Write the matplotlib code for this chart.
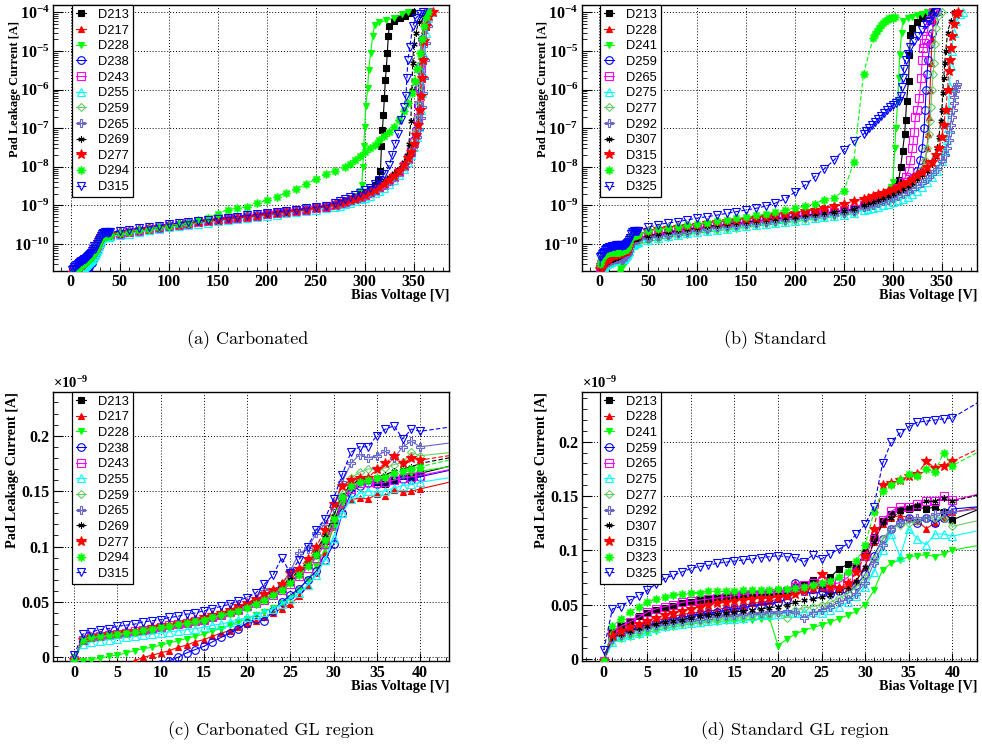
import matplotlib
matplotlib.use('Agg')
import matplotlib.pyplot as plt
from matplotlib.ticker import FixedLocator, FixedFormatter, MultipleLocator, LogLocator, NullFormatter

plt.rcParams['mathtext.fontset'] = 'custom'
plt.rcParams['mathtext.rm'] = 'Liberation Serif:bold'
plt.rcParams['mathtext.bf'] = 'Liberation Serif:bold'
plt.rcParams['mathtext.it'] = 'Liberation Serif:bold'

# ---- voltage grids ----
gl_v = list(range(0, 41))            # 0..40 V, GL region (values in 1e-9 A)
mid_v = list(range(50, 261, 10))     # 50..260 V (values in 1e-10 A)
# tails: (V, I[A]) pairs from 270 V up to compliance

# ================= Carbonated =================
c_names = ['D213', 'D217', 'D228', 'D238', 'D243', 'D255',
           'D259', 'D265', 'D269', 'D277', 'D294', 'D315']

c213_gl = [-0.002, 0.016, 0.018, 0.019, 0.020, 0.021, 0.022, 0.023, 0.025, 0.026,
           0.027, 0.028, 0.030, 0.031, 0.033, 0.034, 0.036, 0.038, 0.040, 0.043,
           0.046, 0.050, 0.053, 0.057, 0.062, 0.068, 0.075, 0.083, 0.092, 0.105,
           0.122, 0.142, 0.155, 0.160, 0.161, 0.158, 0.156, 0.160, 0.164, 0.163,
           0.166]
c217_gl = [-0.020, -0.018, -0.016, -0.013, -0.011, -0.008, -0.006, -0.003, 0.000, 0.002,
           0.004, 0.006, 0.009, 0.011, 0.014, 0.016, 0.019, 0.022, 0.024, 0.027,
           0.030, 0.033, 0.036, 0.040, 0.044, 0.048, 0.055, 0.064, 0.076, 0.095,
           0.118, 0.135, 0.142, 0.144, 0.143, 0.147, 0.146, 0.151, 0.149, 0.150,
           0.152]
c228_gl = [0.000, -0.003, -0.002, -0.001, 0.001, 0.002, 0.004, 0.006, 0.008, 0.009,
           0.011, 0.013, 0.015, 0.017, 0.019, 0.021, 0.024, 0.026, 0.029, 0.032,
           0.035, 0.038, 0.041, 0.045, 0.049, 0.054, 0.061, 0.070, 0.082, 0.098,
           0.118, 0.138, 0.150, 0.156, 0.158, 0.160, 0.161, 0.163, 0.164, 0.166,
           0.168]
c238_gl = [-0.030, -0.028, -0.026, -0.024, -0.022, -0.020, -0.018, -0.015, -0.012, -0.009,
           -0.006, -0.003, 0.000, 0.004, 0.007, 0.010, 0.014, 0.018, 0.022, 0.026,
           0.031, 0.035, 0.033, 0.042, 0.050, 0.056, 0.062, 0.070, 0.078, 0.088,
           0.102, 0.130, 0.148, 0.155, 0.157, 0.156, 0.158, 0.160, 0.161, 0.160,
           0.163]
c243_gl = [-0.002, 0.016, 0.018, 0.019, 0.020, 0.021, 0.022, 0.024, 0.025, 0.026,
           0.027, 0.029, 0.030, 0.031, 0.033, 0.034, 0.036, 0.038, 0.041, 0.043,
           0.046, 0.049, 0.052, 0.056, 0.061, 0.066, 0.073, 0.081, 0.090, 0.102,
           0.120, 0.140, 0.152, 0.157, 0.158, 0.157, 0.158, 0.160, 0.162, 0.163,
           0.164]
c255_gl = [-0.002, 0.012, 0.014, 0.015, 0.016, 0.017, 0.018, 0.019, 0.020, 0.021,
           0.022, 0.023, 0.024, 0.025, 0.026, 0.027, 0.029, 0.030, 0.032, 0.034,
           0.036, 0.038, 0.041, 0.044, 0.048, 0.053, 0.058, 0.065, 0.074, 0.088,
           0.108, 0.130, 0.143, 0.148, 0.150, 0.149, 0.150, 0.153, 0.155, 0.156,
           0.158]
c259_gl = [-0.002, 0.016, 0.018, 0.019, 0.020, 0.021, 0.022, 0.023, 0.025, 0.026,
           0.027, 0.028, 0.030, 0.031, 0.032, 0.034, 0.036, 0.038, 0.040, 0.043,
           0.046, 0.049, 0.053, 0.057, 0.063, 0.070, 0.078, 0.087, 0.097, 0.110,
           0.128, 0.150, 0.162, 0.167, 0.170, 0.170, 0.171, 0.174, 0.176, 0.185,
           0.182]
c265_gl = [-0.002, 0.016, 0.018, 0.020, 0.021, 0.022, 0.023, 0.024, 0.026, 0.027,
           0.028, 0.030, 0.031, 0.033, 0.034, 0.036, 0.038, 0.040, 0.042, 0.045,
           0.049, 0.053, 0.062, 0.060, 0.066, 0.078, 0.094, 0.098, 0.112, 0.120,
           0.135, 0.158, 0.175, 0.183, 0.180, 0.182, 0.186, 0.180, 0.190, 0.195,
           0.190]
c269_gl = [-0.002, 0.017, 0.019, 0.020, 0.021, 0.022, 0.023, 0.024, 0.025, 0.027,
           0.028, 0.029, 0.031, 0.032, 0.034, 0.035, 0.037, 0.039, 0.042, 0.045,
           0.048, 0.051, 0.055, 0.060, 0.065, 0.071, 0.078, 0.086, 0.096, 0.110,
           0.128, 0.146, 0.156, 0.160, 0.162, 0.163, 0.165, 0.168, 0.170, 0.172,
           0.175]
c277_gl = [-0.002, 0.016, 0.018, 0.019, 0.021, 0.022, 0.023, 0.024, 0.025, 0.027,
           0.028, 0.029, 0.031, 0.032, 0.034, 0.036, 0.038, 0.040, 0.043, 0.046,
           0.049, 0.053, 0.057, 0.061, 0.066, 0.076, 0.080, 0.089, 0.100, 0.115,
           0.138, 0.155, 0.160, 0.162, 0.162, 0.170, 0.175, 0.182, 0.175, 0.180,
           0.178]
c294_gl = [-0.002, 0.016, 0.018, 0.019, 0.020, 0.021, 0.022, 0.023, 0.025, 0.026,
           0.027, 0.028, 0.030, 0.031, 0.033, 0.034, 0.036, 0.038, 0.040, 0.042,
           0.045, 0.048, 0.052, 0.056, 0.061, 0.067, 0.074, 0.082, 0.092, 0.106,
           0.125, 0.145, 0.155, 0.158, 0.160, 0.162, 0.163, 0.166, 0.168, 0.170,
           0.172]
c315_gl = [0.002, 0.021, 0.023, 0.025, 0.026, 0.028, 0.029, 0.030, 0.032, 0.033,
           0.034, 0.036, 0.037, 0.039, 0.040, 0.042, 0.044, 0.046, 0.048, 0.051,
           0.054, 0.058, 0.066, 0.074, 0.090, 0.076, 0.088, 0.100, 0.115, 0.125,
           0.143, 0.165, 0.185, 0.190, 0.190, 0.200, 0.206, 0.209, 0.197, 0.206,
           0.204]

c213_mid = [1.85, 2.05, 2.25, 2.45, 2.7, 2.95, 3.2, 3.45, 3.7, 3.95, 4.2, 4.5, 4.8, 5.1, 5.5, 5.9, 6.3, 6.8, 7.3, 7.9, 8.6, 9.4]
c217_mid = [1.7, 1.9, 2.1, 2.3, 2.5, 2.75, 3.0, 3.25, 3.5, 3.75, 4.0, 4.3, 4.6, 4.9, 5.2, 5.6, 6.0, 6.5, 7.0, 7.5, 8.2, 9.0]
c228_mid = [1.8, 2.0, 2.2, 2.4, 2.65, 2.9, 3.15, 3.4, 3.65, 3.9, 4.15, 4.45, 4.75, 5.05, 5.4, 5.8, 6.2, 6.7, 7.2, 7.8, 8.5, 9.3]
c238_mid = [1.8, 2.0, 2.2, 2.45, 2.7, 2.95, 3.2, 3.45, 3.7, 3.95, 4.25, 4.55, 4.85, 5.2, 5.55, 5.95, 6.4, 6.9, 7.4, 8.0, 8.7, 9.6]
c243_mid = [1.8, 2.0, 2.2, 2.4, 2.65, 2.9, 3.15, 3.4, 3.65, 3.9, 4.2, 4.5, 4.8, 5.1, 5.45, 5.85, 6.25, 6.7, 7.2, 7.8, 8.5, 9.3]
c255_mid = [1.7, 1.85, 2.05, 2.25, 2.45, 2.7, 2.9, 3.15, 3.4, 3.6, 3.85, 4.1, 4.4, 4.7, 5.0, 5.35, 5.75, 6.2, 6.7, 7.2, 7.8, 8.5]
c259_mid = [1.9, 2.1, 2.3, 2.5, 2.75, 3.0, 3.25, 3.5, 3.75, 4.0, 4.3, 4.6, 4.9, 5.2, 5.6, 6.0, 6.4, 6.9, 7.4, 8.0, 8.7, 9.5]
c265_mid = [2.0, 2.2, 2.4, 2.6, 2.85, 3.1, 3.35, 3.6, 3.85, 4.1, 4.4, 4.7, 5.0, 5.35, 5.7, 6.1, 6.5, 7.0, 7.5, 8.1, 8.8, 9.6]
c269_mid = [1.9, 2.1, 2.3, 2.5, 2.75, 3.0, 3.25, 3.5, 3.75, 4.0, 4.25, 4.55, 4.85, 5.15, 5.55, 5.95, 6.35, 6.85, 7.35, 7.95, 8.6, 9.4]
c277_mid = [1.9, 2.1, 2.3, 2.5, 2.7, 2.95, 3.2, 3.45, 3.7, 3.95, 4.2, 4.5, 4.8, 5.1, 5.45, 5.85, 6.25, 6.7, 7.2, 7.8, 8.5, 9.2]
c294_mid = [1.9, 2.1, 2.3, 2.5, 2.75, 3.0, 3.3, 3.6, 4.1, 4.8, 6.0, 7.8, 8.5, 9.3, 11.3, 13.8, 17.0, 21.0, 27.0, 35.0, 48.0, 66.0]
c315_mid = [2.15, 2.35, 2.55, 2.75, 3.0, 3.25, 3.5, 3.75, 4.0, 4.25, 4.55, 4.85, 5.15, 5.5, 5.85, 6.25, 6.7, 7.2, 7.75, 8.35, 9.0, 9.8]

c213_tail = [(270, 1.05e-9), (275, 1.15e-9), (280, 1.3e-9), (285, 1.45e-9), (290, 1.65e-9), (295, 1.9e-9),
             (300, 2.2e-9), (305, 2.7e-9), (310, 3.4e-9), (314, 4.6e-9), (316, 7.6e-9), (317, 3.4e-8),
             (318, 9e-8), (319, 2.2e-7), (320, 6e-7), (321, 1.8e-6), (322, 3.6e-6), (323, 8.9e-6),
             (324, 2.4e-5), (325, 4.4e-5), (330, 5.8e-5), (336, 7e-5), (341, 8.2e-5), (345, 9.5e-5), (348, 1.05e-4)]
c217_tail = [(270, 9.8e-10), (275, 1.07e-9), (280, 1.17e-9), (285, 1.28e-9), (290, 1.42e-9), (295, 1.58e-9),
             (300, 1.78e-9), (305, 2.02e-9), (310, 2.33e-9), (315, 2.75e-9), (320, 3.3e-9), (325, 4.1e-9),
             (330, 5.2e-9), (335, 7e-9), (340, 1.0e-8), (344, 1.5e-8), (347, 2.3e-8), (350, 4.2e-8),
             (352, 7.5e-8), (354, 1.6e-7), (355, 3.5e-7), (356, 1e-6), (357, 3e-6), (358, 1e-5),
             (360, 3.5e-5), (363, 7e-5), (367, 1.05e-4)]
c228_tail = [(270, 1.05e-9), (275, 1.15e-9), (280, 1.3e-9), (285, 1.5e-9), (290, 1.8e-9), (295, 2.4e-9),
             (297, 3.4e-9), (298, 1e-8), (299, 3.4e-8), (300, 1.1e-7), (301, 3.7e-7), (303, 1.1e-6),
             (304, 3.3e-6), (306, 8.9e-6), (308, 2.4e-5), (310, 4.7e-5), (315, 5.5e-5), (322, 6.2e-5),
             (330, 7.3e-5), (338, 8.8e-5), (344, 1.03e-4)]
c238_tail = [(270, 1.02e-9), (275, 1.1e-9), (280, 1.2e-9), (285, 1.32e-9), (290, 1.46e-9), (295, 1.63e-9),
             (300, 1.84e-9), (305, 2.1e-9), (310, 2.42e-9), (315, 2.85e-9), (320, 3.45e-9), (325, 4.3e-9),
             (330, 5.5e-9), (335, 7.4e-9), (340, 1.07e-8), (344, 1.6e-8), (347, 2.5e-8), (350, 4.8e-8),
             (352, 9e-8), (353, 1.7e-7), (354, 4e-7), (355, 1.2e-6), (356, 4e-6), (358, 2e-5),
             (361, 6e-5), (364, 1.05e-4)]
c243_tail = [(270, 1.0e-9), (275, 1.08e-9), (280, 1.18e-9), (285, 1.3e-9), (290, 1.44e-9), (295, 1.6e-9),
             (300, 1.8e-9), (305, 2.05e-9), (310, 2.36e-9), (315, 2.78e-9), (320, 3.35e-9), (325, 4.2e-9),
             (330, 5.35e-9), (335, 7.2e-9), (340, 1.04e-8), (344, 1.55e-8), (347, 2.4e-8), (350, 4.5e-8),
             (352, 8e-8), (354, 1.8e-7), (355, 4e-7), (356, 1.1e-6), (357, 3.5e-6), (359, 1.8e-5),
             (362, 6e-5), (365, 1.05e-4)]
c255_tail = [(270, 9e-10), (275, 9.8e-10), (280, 1.07e-9), (285, 1.17e-9), (290, 1.29e-9), (295, 1.43e-9),
             (300, 1.6e-9), (305, 1.8e-9), (310, 2.07e-9), (315, 2.42e-9), (320, 2.9e-9), (325, 3.6e-9),
             (330, 4.6e-9), (335, 6.2e-9), (340, 9e-9), (344, 1.35e-8), (347, 2e-8), (350, 3.3e-8),
             (353, 6e-8), (355, 1.1e-7), (357, 3e-7), (358, 8e-7), (359, 2.5e-6), (360, 8e-6),
             (362, 3e-5), (365, 7e-5), (369, 1.05e-4)]
c259_tail = [(270, 1.05e-9), (275, 1.13e-9), (280, 1.23e-9), (285, 1.35e-9), (290, 1.49e-9), (295, 1.66e-9),
             (300, 1.87e-9), (305, 2.13e-9), (310, 2.46e-9), (315, 2.9e-9), (320, 3.5e-9), (325, 4.35e-9),
             (330, 5.6e-9), (335, 7.5e-9), (340, 1.08e-8), (344, 1.6e-8), (347, 2.5e-8), (350, 4.6e-8),
             (352, 8.5e-8), (354, 1.9e-7), (355, 4.5e-7), (356, 1.3e-6), (357, 4.5e-6), (359, 2e-5),
             (362, 6e-5), (366, 1.05e-4)]
c265_tail = [(270, 1.08e-9), (275, 1.16e-9), (280, 1.26e-9), (285, 1.38e-9), (290, 1.52e-9), (295, 1.69e-9),
             (300, 1.9e-9), (305, 2.16e-9), (310, 2.5e-9), (315, 2.95e-9), (320, 3.55e-9), (325, 4.4e-9),
             (330, 5.6e-9), (335, 7.4e-9), (340, 1.05e-8), (344, 1.5e-8), (347, 2.2e-8), (350, 3.5e-8),
             (353, 6e-8), (355, 9.5e-8), (357, 1.8e-7), (358, 3.5e-7), (359, 8e-7), (360, 2e-6),
             (361, 6e-6), (362, 1.6e-5), (364, 4.5e-5), (367, 1.05e-4)]
c269_tail = [(270, 1.1e-9), (275, 1.2e-9), (280, 1.35e-9), (285, 1.5e-9), (290, 1.7e-9), (295, 1.95e-9),
             (300, 2.2e-9), (305, 2.6e-9), (310, 3.1e-9), (315, 3.7e-9), (320, 4.5e-9), (325, 5.6e-9),
             (330, 7e-9), (335, 9e-9), (340, 1.3e-8), (343, 2e-8), (345, 4e-8), (347, 1.5e-7),
             (348, 1e-6), (349, 5e-6), (350, 1.5e-5), (352, 3e-5), (355, 5.5e-5), (358, 8e-5), (362, 1.05e-4)]
c277_tail = [(270, 1.05e-9), (275, 1.13e-9), (280, 1.23e-9), (285, 1.35e-9), (290, 1.5e-9), (295, 1.68e-9),
             (300, 1.9e-9), (305, 2.17e-9), (310, 2.52e-9), (315, 2.98e-9), (320, 3.6e-9), (325, 4.5e-9),
             (330, 5.8e-9), (335, 7.8e-9), (340, 1.12e-8), (344, 1.65e-8), (347, 2.4e-8), (350, 4e-8),
             (352, 6.5e-8), (354, 1.2e-7), (356, 3e-7), (357, 7e-7), (358, 2e-6), (359, 6e-6),
             (360, 1.8e-5), (362, 4.5e-5), (366, 8e-5), (370, 1.05e-4)]
c294_tail = [(270, 8e-9), (280, 1.0e-8), (285, 1.2e-8), (290, 1.5e-8), (295, 1.9e-8), (300, 2.4e-8),
             (305, 3e-8), (310, 3.7e-8), (315, 4.8e-8), (320, 6.2e-8), (325, 8.2e-8), (330, 1.1e-7),
             (335, 1.6e-7), (340, 2.8e-7), (344, 4.5e-7), (348, 8.3e-7), (351, 1.7e-6), (353, 3.5e-6),
             (356, 9e-6), (358, 2e-5), (360, 4.5e-5), (362, 7.5e-5), (364, 1.05e-4)]
c315_tail = [(270, 1.15e-9), (275, 1.3e-9), (280, 1.45e-9), (285, 1.65e-9), (290, 1.9e-9), (295, 2.15e-9),
             (300, 2.5e-9), (305, 2.9e-9), (310, 3.5e-9), (315, 4.5e-9), (320, 6.5e-9), (325, 1.1e-8),
             (328, 2e-8), (331, 4e-8), (334, 7e-8), (337, 1.6e-7), (340, 3.5e-7), (342, 7e-7),
             (343, 2e-6), (344, 5.9e-6), (346, 1.3e-5), (349, 4.4e-5), (352, 7e-5), (356, 9e-5), (359, 1.05e-4)]

# ================= Standard =================
s_names = ['D213', 'D228', 'D241', 'D259', 'D265', 'D275',
           'D277', 'D292', 'D307', 'D315', 'D323', 'D325']

s213_gl = [-0.002, 0.025, 0.031, 0.035, 0.039, 0.042, 0.045, 0.047, 0.049, 0.051,
           0.052, 0.054, 0.055, 0.056, 0.057, 0.058, 0.059, 0.060, 0.060, 0.061,
           0.062, 0.063, 0.065, 0.068, 0.073, 0.066, 0.075, 0.083, 0.087, 0.085,
           0.098, 0.112, 0.127, 0.133, 0.137, 0.138, 0.140, 0.138, 0.140, 0.135,
           0.128]
s228_gl = [-0.002, 0.022, 0.026, 0.029, 0.031, 0.033, 0.035, 0.037, 0.039, 0.041,
           0.042, 0.043, 0.044, 0.045, 0.047, 0.048, 0.049, 0.051, 0.052, 0.053,
           0.055, 0.058, 0.070, 0.066, 0.064, 0.065, 0.063, 0.066, 0.065, 0.072,
           0.085, 0.108, 0.124, 0.130, 0.132, 0.130, 0.127, 0.120, 0.125, 0.130,
           0.135]
s241_gl = [-0.002, 0.015, 0.018, 0.020, 0.022, 0.024, 0.026, 0.028, 0.029, 0.031,
           0.032, 0.033, 0.034, 0.034, 0.035, 0.035, 0.036, 0.036, 0.037, 0.038,
           0.012, 0.018, 0.023, 0.026, 0.029, 0.031, 0.034, 0.037, 0.040, 0.044,
           0.050, 0.063, 0.082, 0.088, 0.091, 0.094, 0.095, 0.096, 0.094, 0.097,
           0.100]
s259_gl = [-0.002, 0.020, 0.024, 0.027, 0.029, 0.031, 0.033, 0.035, 0.037, 0.038,
           0.040, 0.041, 0.042, 0.043, 0.045, 0.046, 0.047, 0.049, 0.050, 0.051,
           0.052, 0.055, 0.070, 0.062, 0.060, 0.062, 0.060, 0.062, 0.060, 0.068,
           0.078, 0.095, 0.110, 0.120, 0.125, 0.130, 0.125, 0.130, 0.125, 0.130,
           0.138]
s265_gl = [-0.002, 0.025, 0.030, 0.034, 0.038, 0.043, 0.046, 0.048, 0.050, 0.052,
           0.053, 0.054, 0.055, 0.056, 0.057, 0.058, 0.059, 0.060, 0.060, 0.061,
           0.061, 0.062, 0.066, 0.068, 0.070, 0.072, 0.068, 0.070, 0.075, 0.085,
           0.095, 0.110, 0.128, 0.136, 0.140, 0.140, 0.143, 0.145, 0.145, 0.150,
           0.146]
s275_gl = [-0.002, 0.015, 0.020, 0.022, 0.024, 0.026, 0.028, 0.030, 0.031, 0.032,
           0.033, 0.034, 0.035, 0.036, 0.037, 0.037, 0.038, 0.039, 0.040, 0.040,
           0.041, 0.042, 0.042, 0.043, 0.043, 0.042, 0.045, 0.048, 0.052, 0.058,
           0.066, 0.080, 0.100, 0.115, 0.094, 0.120, 0.110, 0.105, 0.115, 0.115,
           0.113]
s277_gl = [-0.002, 0.018, 0.022, 0.024, 0.026, 0.028, 0.029, 0.031, 0.032, 0.033,
           0.034, 0.035, 0.036, 0.037, 0.038, 0.038, 0.039, 0.040, 0.041, 0.041,
           0.042, 0.038, 0.045, 0.047, 0.048, 0.050, 0.052, 0.056, 0.060, 0.066,
           0.075, 0.092, 0.110, 0.120, 0.123, 0.125, 0.127, 0.130, 0.130, 0.130,
           0.122]
s292_gl = [-0.002, 0.018, 0.022, 0.025, 0.027, 0.029, 0.031, 0.032, 0.034, 0.035,
           0.036, 0.037, 0.038, 0.039, 0.040, 0.040, 0.041, 0.042, 0.042, 0.043,
           0.043, 0.044, 0.043, 0.038, 0.042, 0.045, 0.048, 0.052, 0.055, 0.060,
           0.070, 0.088, 0.105, 0.120, 0.126, 0.130, 0.130, 0.130, 0.133, 0.135,
           0.135]
s307_gl = [-0.002, 0.020, 0.023, 0.026, 0.028, 0.030, 0.032, 0.034, 0.035, 0.036,
           0.038, 0.039, 0.040, 0.041, 0.042, 0.043, 0.044, 0.045, 0.046, 0.047,
           0.048, 0.050, 0.052, 0.054, 0.055, 0.057, 0.059, 0.062, 0.066, 0.072,
           0.085, 0.108, 0.125, 0.130, 0.135, 0.140, 0.142, 0.145, 0.145, 0.148,
           0.145]
s315_gl = [-0.002, 0.022, 0.026, 0.029, 0.032, 0.035, 0.038, 0.040, 0.042, 0.044,
           0.046, 0.048, 0.050, 0.051, 0.052, 0.053, 0.054, 0.055, 0.056, 0.056,
           0.057, 0.058, 0.060, 0.062, 0.065, 0.078, 0.066, 0.065, 0.070, 0.080,
           0.095, 0.120, 0.160, 0.162, 0.165, 0.168, 0.170, 0.182, 0.176, 0.178,
           0.182]
s323_gl = [-0.002, 0.030, 0.037, 0.043, 0.048, 0.052, 0.055, 0.057, 0.059, 0.060,
           0.061, 0.061, 0.062, 0.062, 0.062, 0.062, 0.063, 0.063, 0.063, 0.063,
           0.064, 0.064, 0.065, 0.066, 0.068, 0.070, 0.072, 0.075, 0.080, 0.090,
           0.105, 0.135, 0.155, 0.160, 0.165, 0.170, 0.168, 0.175, 0.172, 0.190,
           0.178]
s325_gl = [0.008, 0.046, 0.048, 0.054, 0.058, 0.063, 0.069, 0.074, 0.077, 0.080,
           0.083, 0.085, 0.086, 0.088, 0.089, 0.090, 0.091, 0.092, 0.093, 0.094,
           0.095, 0.094, 0.093, 0.089, 0.096, 0.092, 0.097, 0.101, 0.106, 0.115,
           0.124, 0.140, 0.180, 0.200, 0.208, 0.214, 0.218, 0.219, 0.220, 0.221,
           0.222]

s213_mid = [1.6, 1.8, 2.0, 2.2, 2.4, 2.6, 2.8, 3.0, 3.2, 3.45, 3.7, 3.95, 4.2, 4.5, 4.8, 5.1, 5.5, 5.9, 6.3, 6.8, 7.4, 8.0]
s228_mid = [1.5, 1.7, 1.9, 2.1, 2.3, 2.5, 2.7, 2.9, 3.1, 3.35, 3.6, 3.85, 4.1, 4.4, 4.7, 5.0, 5.4, 5.8, 6.2, 6.7, 7.3, 7.9]
s241_mid = [1.15, 1.3, 1.45, 1.6, 1.75, 1.9, 2.05, 2.2, 2.35, 2.5, 2.7, 2.9, 3.1, 3.3, 3.55, 3.8, 4.1, 4.4, 4.75, 5.1, 5.5, 6.0]
s259_mid = [1.45, 1.65, 1.85, 2.05, 2.25, 2.45, 2.65, 2.85, 3.05, 3.3, 3.55, 3.8, 4.05, 4.35, 4.65, 4.95, 5.3, 5.7, 6.1, 6.6, 7.1, 7.7]
s265_mid = [1.65, 1.85, 2.05, 2.25, 2.45, 2.65, 2.85, 3.05, 3.25, 3.5, 3.75, 4.0, 4.3, 4.6, 4.9, 5.2, 5.6, 6.0, 6.4, 6.9, 7.5, 8.1]
s275_mid = [1.3, 1.45, 1.6, 1.75, 1.9, 2.05, 2.2, 2.35, 2.5, 2.7, 2.9, 3.1, 3.3, 3.5, 3.75, 4.0, 4.3, 4.6, 4.95, 5.3, 5.7, 6.2]
s277_mid = [1.4, 1.55, 1.7, 1.85, 2.0, 2.2, 2.4, 2.6, 2.8, 3.0, 3.2, 3.4, 3.65, 3.9, 4.15, 4.45, 4.75, 5.1, 5.5, 5.9, 6.4, 6.9]
s292_mid = [1.45, 1.6, 1.75, 1.9, 2.1, 2.3, 2.5, 2.7, 2.9, 3.1, 3.3, 3.55, 3.8, 4.05, 4.3, 4.6, 4.9, 5.25, 5.6, 6.0, 6.5, 7.0]
s307_mid = [1.65, 1.85, 2.05, 2.25, 2.45, 2.65, 2.85, 3.05, 3.25, 3.5, 3.75, 4.0, 4.25, 4.55, 4.85, 5.15, 5.5, 5.9, 6.3, 6.8, 7.3, 7.9]
s315_mid = [2.2, 2.4, 2.6, 2.8, 3.0, 3.2, 3.45, 3.7, 3.95, 4.2, 4.5, 4.8, 5.15, 5.5, 5.9, 6.4, 7.0, 7.6, 8.4, 9.4, 11.0, 13.0]
s323_mid = [2.2, 2.4, 2.6, 2.8, 3.05, 3.3, 3.6, 3.9, 4.25, 4.6, 5.0, 5.5, 6.0, 6.7, 7.5, 8.6, 9.5, 11.0, 14.0, 16.0, 24.0, 130.0]
s325_mid = [2.7, 3.2, 3.5, 3.8, 4.2, 4.7, 5.1, 5.6, 6.2, 6.9, 7.6, 8.4, 9.6, 11.5, 15.0, 22.0, 33.0, 55.0, 89.0, 150.0, 280.0, 460.0]

s213_tail = [(270, 1.1e-9), (275, 1.2e-9), (280, 1.35e-9), (285, 1.5e-9), (290, 1.7e-9), (295, 2e-9),
             (300, 2.5e-9), (303, 3.2e-9), (306, 4.5e-9), (308, 1e-8), (310, 2.6e-8), (312, 7e-8),
             (313, 1.6e-7), (314, 5e-7), (316, 1.7e-6), (317, 8e-6), (318, 2.6e-5), (320, 4e-5),
             (325, 5.5e-5), (330, 7e-5), (335, 8.5e-5), (339, 1.02e-4)]
s228_tail = [(270, 1.05e-9), (275, 1.15e-9), (280, 1.28e-9), (285, 1.42e-9), (290, 1.6e-9), (295, 1.82e-9),
             (300, 2.1e-9), (305, 2.5e-9), (310, 3e-9), (315, 3.7e-9), (320, 4.7e-9), (325, 6.2e-9),
             (330, 9e-9), (333, 1.5e-8), (335, 3e-8), (336, 7e-8), (337, 2e-7), (338, 1e-6),
             (339, 5e-6), (340, 2e-5), (342, 6e-5), (345, 1.03e-4)]
s241_tail = [(270, 8e-10), (275, 9e-10), (280, 1e-9), (285, 1.15e-9), (290, 1.4e-9), (295, 2e-9),
             (298, 3e-9), (300, 4e-9), (302, 3e-8), (303, 1e-7), (305, 5e-7), (306, 2e-6),
             (307, 8e-6), (309, 3e-5), (310, 5.9e-5), (315, 7e-5), (320, 7.8e-5), (325, 8.5e-5),
             (330, 9.3e-5), (335, 1.02e-4)]
s259_tail = [(270, 1.0e-9), (275, 1.1e-9), (280, 1.2e-9), (285, 1.35e-9), (290, 1.5e-9), (295, 1.7e-9),
             (300, 2e-9), (305, 2.4e-9), (310, 3e-9), (315, 3.8e-9), (320, 5e-9), (325, 8e-9),
             (328, 1.5e-8), (330, 3e-8), (332, 1e-7), (333, 3e-7), (334, 1e-6), (335, 2.5e-6),
             (336, 6e-6), (338, 1.5e-5), (340, 3e-5), (342, 6e-5), (345, 1.02e-4)]
s265_tail = [(270, 1.05e-9), (275, 1.15e-9), (280, 1.3e-9), (285, 1.45e-9), (290, 1.65e-9), (295, 1.9e-9),
             (300, 2.3e-9), (305, 2.9e-9), (310, 4e-9), (313, 5.5e-9), (316, 8e-9), (318, 1.5e-8),
             (320, 3e-8), (321, 5e-8), (322, 8e-8), (323, 1.9e-7), (325, 3e-7), (327, 6e-7),
             (329, 2e-6), (330, 6e-6), (331, 1.2e-5), (332, 1.6e-5), (334, 2e-5), (336, 4e-5),
             (338, 6.5e-5), (341, 1.02e-4)]
s275_tail = [(270, 7.5e-10), (275, 8e-10), (280, 8.6e-10), (285, 9.3e-10), (290, 1.0e-9), (295, 1.1e-9),
             (300, 1.2e-9), (305, 1.35e-9), (310, 1.5e-9), (315, 1.7e-9), (320, 2e-9), (325, 2.4e-9),
             (330, 3e-9), (335, 4e-9), (340, 5.5e-9), (345, 8e-9), (350, 1.4e-8), (353, 2.5e-8),
             (355, 5e-8), (356, 1e-7), (357, 3e-7), (358, 1.2e-6), (359, 4e-6), (360, 1e-5),
             (362, 3e-5), (365, 6e-5), (369, 9e-5), (372, 1.02e-4)]
s277_tail = [(270, 9e-10), (275, 9.7e-10), (280, 1.05e-9), (285, 1.15e-9), (290, 1.27e-9), (295, 1.42e-9),
             (300, 1.6e-9), (305, 1.85e-9), (310, 2.2e-9), (315, 2.8e-9), (320, 3.8e-9), (325, 5.5e-9),
             (330, 9e-9), (333, 1.5e-8), (335, 3e-8), (337, 7e-8), (338, 1.5e-7), (339, 3.5e-7),
             (340, 1e-6), (341, 2.5e-6), (342, 5e-6), (343, 1.5e-5), (344, 4e-5), (346, 8e-5), (350, 1.02e-4)]
s292_tail = [(270, 9e-10), (275, 9.7e-10), (280, 1.05e-9), (285, 1.15e-9), (290, 1.27e-9), (295, 1.4e-9),
             (300, 1.55e-9), (305, 1.75e-9), (310, 2e-9), (315, 2.3e-9), (320, 2.7e-9), (325, 3.2e-9),
             (330, 3.9e-9), (335, 4.9e-9), (340, 6.5e-9), (345, 9e-9), (350, 1.4e-8), (353, 2e-8),
             (355, 3e-8), (357, 5e-8), (358, 8e-8), (359, 1.2e-7), (360, 2e-7), (361, 3e-7),
             (362, 4.5e-7), (363, 6.5e-7), (364, 9e-7), (365, 1.2e-6), (366, 1.4e-6)]
s307_tail = [(270, 1.05e-9), (275, 1.15e-9), (280, 1.26e-9), (285, 1.4e-9), (290, 1.55e-9), (295, 1.75e-9),
             (300, 2e-9), (305, 2.3e-9), (310, 2.7e-9), (315, 3.2e-9), (320, 3.9e-9), (325, 4.8e-9),
             (330, 6e-9), (335, 8e-9), (340, 1.2e-8), (343, 1.8e-8), (345, 3e-8), (347, 6e-8),
             (349, 1.5e-7), (350, 3e-7), (351, 8e-7), (352, 2e-6), (353, 5e-6), (354, 1e-5),
             (356, 3e-5), (359, 6e-5), (363, 1.02e-4)]
s315_tail = [(270, 1.45e-9), (275, 1.6e-9), (280, 1.75e-9), (285, 1.95e-9), (290, 2.15e-9), (295, 2.4e-9),
             (300, 2.7e-9), (305, 3.05e-9), (310, 3.5e-9), (315, 4.1e-9), (320, 4.9e-9), (325, 6e-9),
             (330, 7.5e-9), (335, 9.8e-9), (340, 1.35e-8), (344, 2e-8), (347, 3e-8), (350, 6e-8),
             (352, 1.2e-7), (354, 3e-7), (356, 1e-6), (357, 3e-6), (358, 6e-6), (359, 1.2e-5),
             (360, 2.5e-5), (362, 5e-5), (365, 9e-5), (367, 1.03e-4)]
s323_tail = [(270, 2.6e-6), (280, 2.2e-5), (282, 2.8e-5), (284, 3.3e-5), (286, 4e-5), (288, 4.8e-5),
             (290, 5.3e-5), (292, 5.8e-5), (294, 6.4e-5), (296, 7e-5), (298, 7.2e-5), (300, 7.3e-5), (302, 7.5e-5)]
s325_tail = [(270, 7e-8), (273, 8.5e-8), (276, 1e-7), (279, 1.2e-7), (282, 1.45e-7), (285, 1.75e-7),
             (288, 2.1e-7), (291, 2.5e-7), (294, 3e-7), (297, 3.5e-7), (300, 4e-7), (303, 4.5e-7),
             (306, 5.2e-7), (308, 7e-7), (309, 1.2e-6), (310, 2e-6), (311, 3.5e-6), (313, 6e-6),
             (315, 8.3e-6), (318, 1.3e-5), (322, 1.8e-5), (326, 2.5e-5), (330, 3.5e-5), (334, 5e-5),
             (337, 6e-5), (340, 8e-5), (344, 1.02e-4)]

c_series = [(c213_gl, c213_mid, c213_tail), (c217_gl, c217_mid, c217_tail), (c228_gl, c228_mid, c228_tail),
            (c238_gl, c238_mid, c238_tail), (c243_gl, c243_mid, c243_tail), (c255_gl, c255_mid, c255_tail),
            (c259_gl, c259_mid, c259_tail), (c265_gl, c265_mid, c265_tail), (c269_gl, c269_mid, c269_tail),
            (c277_gl, c277_mid, c277_tail), (c294_gl, c294_mid, c294_tail), (c315_gl, c315_mid, c315_tail)]
s_series = [(s213_gl, s213_mid, s213_tail), (s228_gl, s228_mid, s228_tail), (s241_gl, s241_mid, s241_tail),
            (s259_gl, s259_mid, s259_tail), (s265_gl, s265_mid, s265_tail), (s275_gl, s275_mid, s275_tail),
            (s277_gl, s277_mid, s277_tail), (s292_gl, s292_mid, s292_tail), (s307_gl, s307_mid, s307_tail),
            (s315_gl, s315_mid, s315_tail), (s323_gl, s323_mid, s323_tail), (s325_gl, s325_mid, s325_tail)]

# marker / line styles, same order in both sets (ROOT-like)
styles = [
    dict(c='black',   m='s',       f='black',   ms=5.0, ls='-'),
    dict(c='red',     m='^',       f='red',     ms=5.0, ls='-'),
    dict(c='#00ff00', m='v',       f='#00ff00', ms=5.0, ls='-'),
    dict(c='blue',    m='o',       f='none',    ms=5.5, ls='-'),
    dict(c='magenta', m='s',       f='none',    ms=5.5, ls='-'),
    dict(c='#00ffff', m='^',       f='none',    ms=5.5, ls='-'),
    dict(c='#66cc66', m='D',       f='none',    ms=4.5, ls='-'),
    dict(c='#6666cc', m='P',       f='none',    ms=6.0, ls='-'),
    dict(c='black',   m=(6, 2, 0), f='black',   ms=4.5, ls=(0, (4, 2))),
    dict(c='red',     m='*',       f='red',     ms=7.5, ls=(0, (4, 2))),
    dict(c='#00ff00', m=(8, 1, 0), f='#00ff00', ms=6.0, ls=(0, (4, 2))),
    dict(c='blue',    m='v',       f='none',    ms=6.0, ls=(0, (4, 2))),
]

TICKFONT = dict(family='Liberation Serif', weight='bold', size=11.5)
GRID = dict(color='black', ls=(0, (1, 2)), lw=0.7)


def build(gl, mid, tail):
    v = gl_v + mid_v + [t[0] for t in tail]
    cur = [x * 1e-9 for x in gl] + [x * 1e-10 for x in mid] + [t[1] for t in tail]
    return v, cur


def draw(ax, series, names, log, legx):
    for k, (gl, mid, tail) in enumerate(series):
        v, cur = build(gl, mid, tail)
        if not log:
            cur = [x * 1e9 for x in cur]
        st = styles[k]
        ax.plot(v, cur, color=st['c'], marker=st['m'], mfc=st['f'], mec=st['c'], ms=st['ms'],
                mew=0.8, lw=0.8, ls=st['ls'], label=names[k], zorder=3 + k)
    leg = ax.legend(loc='upper left', bbox_to_anchor=(legx, 1.0), numpoints=1, frameon=True,
                    fancybox=False, edgecolor='black', framealpha=1,
                    prop=dict(family='Liberation Sans', size=9.3),
                    handlelength=0.8, handletextpad=0.9, labelspacing=0.28,
                    borderpad=0.3, borderaxespad=0.0)
    leg.get_frame().set_linewidth(0.9)
    leg.set_zorder(50)


def style_axes(ax, ysize):
    for sp in ax.spines.values():
        sp.set_linewidth(1.0)
    ax.tick_params(which='both', direction='in', top=False, right=False, pad=2.5)
    ax.tick_params(axis='y', which='major', length=7)
    ax.tick_params(axis='y', which='minor', length=3.5)
    ax.tick_params(axis='x', which='major', length=6)
    ax.tick_params(axis='x', which='minor', length=3)
    for lab in ax.get_xticklabels() + ax.get_yticklabels():
        lab.set_fontproperties(matplotlib.font_manager.FontProperties(**TICKFONT))
    ax.grid(True, which='major', **GRID)
    ax.set_axisbelow(True)
    ax.set_xlabel('Bias Voltage [V]', family='Liberation Serif', weight='bold', size=10.3, loc='right')
    ax.set_ylabel('Pad Leakage Current [A]', family='Liberation Serif', weight='bold', size=ysize, loc='top')


def log_panel(ax, series, names, legx):
    ax.set_yscale('log', nonpositive='mask')
    draw(ax, series, names, True, legx)
    ax.set_xlim(-18, 386)
    ax.set_ylim(2e-11, 1.55e-4)
    decades = [1e-10, 1e-9, 1e-8, 1e-7, 1e-6, 1e-5, 1e-4]
    ax.yaxis.set_major_locator(FixedLocator(decades))
    ax.yaxis.set_major_formatter(FixedFormatter([r'$10^{-10}$', r'$10^{-9}$', r'$10^{-8}$', r'$10^{-7}$',
                                                 r'$10^{-6}$', r'$10^{-5}$', r'$10^{-4}$']))
    ax.yaxis.set_minor_locator(LogLocator(base=10, subs=range(2, 10), numticks=30))
    ax.yaxis.set_minor_formatter(NullFormatter())
    ax.xaxis.set_major_locator(MultipleLocator(50))
    ax.xaxis.set_minor_locator(MultipleLocator(10))
    style_axes(ax, 9.0)
    ax.xaxis.set_label_coords(1.0, -0.068)
    ax.yaxis.set_label_coords(-0.082, 0.94)


def lin_panel(ax, series, names, legx, xlim, ylim):
    draw(ax, series, names, False, legx)
    ax.set_xlim(*xlim)
    ax.set_ylim(*ylim)
    ax.yaxis.set_major_locator(FixedLocator([0, 0.05, 0.1, 0.15, 0.2]))
    ax.yaxis.set_major_formatter(FixedFormatter(['0', '0.05', '0.1', '0.15', '0.2']))
    ax.yaxis.set_minor_locator(MultipleLocator(0.01))
    ax.xaxis.set_major_locator(MultipleLocator(5))
    ax.xaxis.set_minor_locator(MultipleLocator(1))
    style_axes(ax, 10.3)
    ax.xaxis.set_label_coords(1.0, -0.07)
    ax.yaxis.set_label_coords(-0.085, 1.0)
    ax.text(0.0, 1.004, r'$\times10^{-9}$', transform=ax.transAxes, ha='left', va='bottom',
            size=10.5, color='black')


fig = plt.figure(figsize=(9.82, 7.46), dpi=100)
fig.patch.set_facecolor('white')

ax_a = fig.add_axes([0.054, 0.6367, 0.4033, 0.3566])
ax_b = fig.add_axes([0.5924, 0.6367, 0.4025, 0.3566])
ax_c = fig.add_axes([0.054, 0.1139, 0.4033, 0.3610])
ax_d = fig.add_axes([0.5924, 0.1139, 0.4025, 0.3610])

log_panel(ax_a, c_series, c_names, 0.048)
log_panel(ax_b, s_series, s_names, 0.046)
lin_panel(ax_c, c_series, c_names, 0.048, (-2.43, 43.35), (-0.0033, 0.2397))
lin_panel(ax_d, s_series, s_names, 0.046, (-2.52, 42.83), (-0.0021, 0.2461))

cap = dict(family='cmr10', size=13, ha='center', va='center')
fig.text(248 / 982, 1 - 340 / 746, '(a) Carbonated', **cap)
fig.text(775 / 982, 1 - 340 / 746, '(b) Standard', **cap)
fig.text(271 / 982, 1 - 731 / 746, '(c) Carbonated GL region', **cap)
fig.text(795 / 982, 1 - 731 / 746, '(d) Standard GL region', **cap)

fig.savefig('out.png', dpi=100, facecolor='white')
